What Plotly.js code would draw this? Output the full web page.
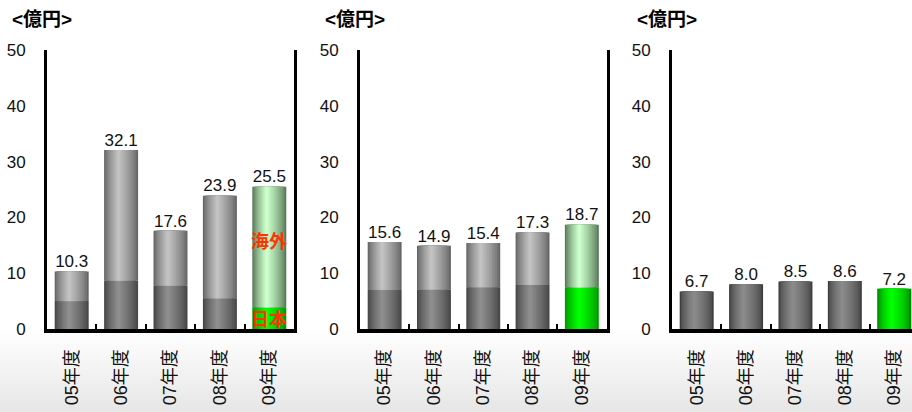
<!DOCTYPE html>
<html>
<head>
<meta charset="utf-8">
<script src="https://cdn.plot.ly/plotly-3.0.1.min.js"></script>
<style>
html,body{margin:0;padding:0;overflow:hidden;}
body{width:912px;height:412px;background:linear-gradient(to bottom,#ffffff 0px,#ffffff 330px,#e6e6e6 412px);}
#chart{width:912px;height:412px;}
</style>
</head>
<body>
<div id="chart"></div>
<script>
// ---- data ----
const categories = ["05年度", "06年度", "07年度", "08年度", "09年度"];
// panel 1 (stacked: 日本 + 海外)
const p1Total = [10.3, 32.1, 17.6, 23.9, 25.5];
const p1Japan = [5.0, 8.7, 7.8, 5.5, 3.9];
// panel 2 (stacked: 日本 + 海外)
const p2Total = [15.6, 14.9, 15.4, 17.3, 18.7];
const p2Japan = [7.0, 7.1, 7.5, 7.9, 7.5];
// panel 3 (single)
const p3Total = [6.7, 8.0, 8.5, 8.6, 7.2];
const yTicks = [0, 10, 20, 30, 40, 50];
const unitLabel = "&lt;億円&gt;";
const labelOverseas = "海外";
const labelJapan = "日本";

// ---- styling helpers ----
function hex2rgb(h){h=h.replace('#','');return [parseInt(h.substr(0,2),16),parseInt(h.substr(2,2),16),parseInt(h.substr(4,2),16)];}
function lerp(a,b,t){const A=hex2rgb(a),B=hex2rgb(b);return 'rgb('+A.map((v,i)=>Math.round(v+(B[i]-v)*t)).join(',')+')';}

const W = 0.688, HPOS = 0.42, NL = 12;
const FONT = "Liberation Sans, Arial, Noto Sans CJK JP, sans-serif";

function layers(xa, ya, yvals, base, edgeArr, highArr, power){
  const out = [];
  const L = -W/2, R = W/2, h = L + HPOS*W;
  for(let i=0;i<NL;i++){
    const t = i/NL;
    const left = L + (h-L)*t, right = R - (R-h)*t;
    const ct = Math.pow(i/(NL-1), power);
    out.push({
      type:'bar', x:categories, y:yvals, base:base,
      xaxis:xa, yaxis:ya,
      offset:left, width:right-left,
      marker:{color:edgeArr.map((e,k)=>lerp(e,highArr[k],ct)), line:{width:0}},
      hoverinfo:'skip', showlegend:false
    });
  }
  return out;
}
function colorsFor(gray, green){return categories.map((c,i)=> i===categories.length-1 ? green : gray);}

const traces = [];
function stackedPanel(xa, ya, total, japan){
  const over = total.map((v,i)=> +(v - japan[i]).toFixed(2));
  traces.push(...layers(xa, ya, japan, 0,
    colorsFor('#474747','#009a00'), colorsFor('#8e8e8e','#00ff00'), 0.8));
  traces.push(...layers(xa, ya, over, japan,
    colorsFor('#666666','#5a7a5a'), colorsFor('#c2c2c2','#ccffcc'), 0.8));
  traces.push({type:'scatter', mode:'text', x:categories, y:total, xaxis:xa, yaxis:ya,
    text:total.map(v=>v.toFixed(1)), textposition:'top center',
    textfont:{family:FONT, size:17, color:'#111'}, cliponaxis:false, hoverinfo:'skip', showlegend:false});
}
stackedPanel('x','y',p1Total,p1Japan);
stackedPanel('x2','y2',p2Total,p2Japan);
traces.push(...layers('x3','y3',p3Total,0,
  colorsFor('#3e3e3e','#008400'), colorsFor('#8a8a8a','#00ff00'), 0.6));
traces.push({type:'scatter', mode:'text', x:categories, y:p3Total, xaxis:'x3', yaxis:'y3',
  text:p3Total.map(v=>v.toFixed(1)), textposition:'top center',
  textfont:{family:FONT, size:17, color:'#111'}, cliponaxis:false, hoverinfo:'skip', showlegend:false});

const py = px => 1 - px/412;
const yDom = [py(329), py(50)];
function xAxis(dom, range){
  return {domain:dom, type:'category', range:range, showline:true, linewidth:4, linecolor:'#000',
    mirror:false, showgrid:false, zeroline:false, ticks:'inside', tickson:'boundaries',
    ticklen:5, tickwidth:2, tickcolor:'#000', tickangle:-90, ticklabelstandoff:9,
    tickfont:{family:FONT, size:18, color:'#111'}, fixedrange:true};
}
function yAxis(anchor, mirror){
  return {domain:yDom, anchor:anchor, range:[0,50], tickvals:yTicks, ticktext:yTicks.map(String),
    showline:true, linewidth:3, linecolor:'#000', mirror:mirror, showgrid:false, zeroline:false,
    ticks:'', ticklabelstandoff:15, tickfont:{family:FONT, size:17, color:'#111'}, fixedrange:true};
}

const ann = (x)=>({xref:'paper', yref:'paper', x:x/912, y:py(20), xanchor:'left', yanchor:'middle',
  text:'<b>'+unitLabel+'</b>', showarrow:false, font:{family:"Liberation Sans, Noto Sans CJK JP, sans-serif", size:19, color:'#000'}});
const redLbl = (txt, yv)=>({xref:'x', yref:'y', x:categories[4], y:yv, text:'<b>'+txt+'</b>', showarrow:false,
  font:{family:"Noto Sans CJK JP, sans-serif", size:18, color:'#ff3300'}});

const layout = {
  width:912, height:412, margin:{l:0,r:0,t:0,b:0},
  paper_bgcolor:'rgba(0,0,0,0)', plot_bgcolor:'rgba(0,0,0,0)',
  barmode:'overlay', showlegend:false,
  xaxis: xAxis([47/912, 294/912], [-0.5,4.5]),
  xaxis2: Object.assign(xAxis([360/912, 606.5/912], [-0.5,4.5]), {anchor:'y2'}),
  xaxis3: Object.assign(xAxis([672/912, 1], [-0.5,4.36]), {anchor:'y3'}),
  yaxis: yAxis('x', true),
  yaxis2: yAxis('x2', true),
  yaxis3: yAxis('x3', false),
  annotations:[ann(10), ann(323), ann(635), redLbl(labelOverseas, 16), redLbl(labelJapan, 1.9)]
};
layout.xaxis.anchor = 'y';

Plotly.newPlot('chart', traces, layout, {displayModeBar:false, staticPlot:true});
</script>
</body>
</html>
